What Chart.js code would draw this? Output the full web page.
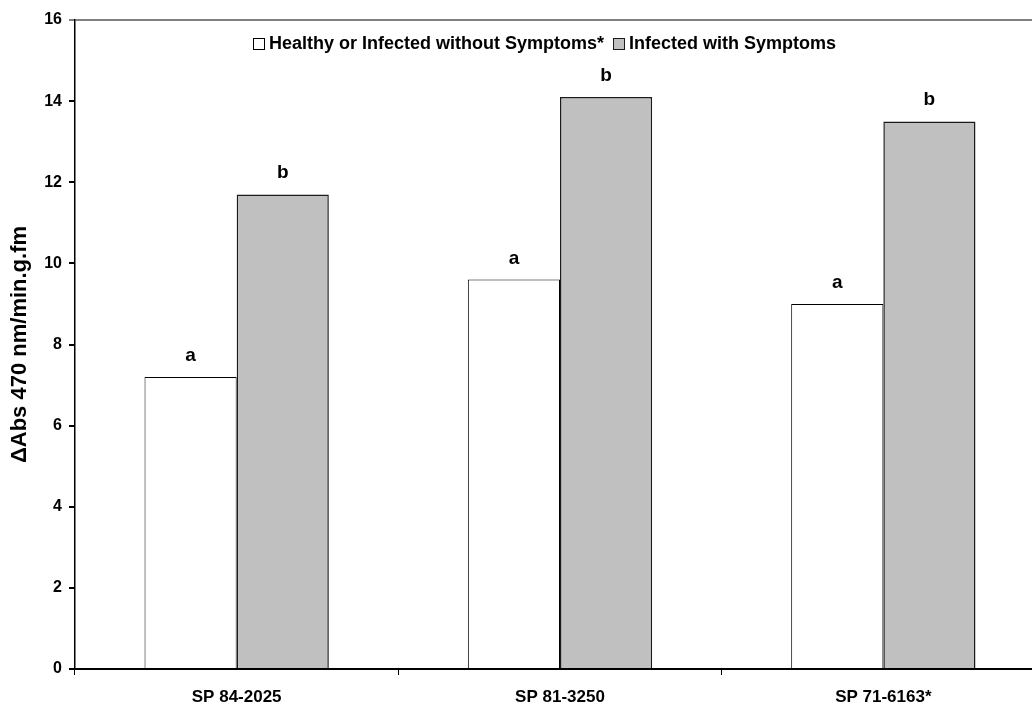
<!DOCTYPE html>
<html>
<head>
<meta charset="utf-8">
<script src="https://cdn.jsdelivr.net/npm/chart.js@4.4.1/dist/chart.umd.min.js"></script>
<style>
  html, body { margin: 0; padding: 0; background: #fff; overflow: hidden; }
  #wrap { width: 1050px; height: 704px; }
</style>
</head>
<body>
<div id="wrap"><canvas id="c" width="1050" height="704"></canvas></div>
<script>
// Clones and their enzyme activity for the two plant groups
const categories = ['SP 84-2025', 'SP 81-3250', 'SP 71-6163*'];
const seriesNames = ['Healthy or Infected without Symptoms*', 'Infected with Symptoms'];
const healthyValues = [7.2, 9.6, 9.0];
const symptomValues = [11.7, 14.1, 13.5];
// Significance letters written above each bar
const healthyLetters = ['a', 'a', 'a'];
const symptomLetters = ['b', 'b', 'b'];
const yMin = 0, yMax = 16, yStep = 2;

const FONT = '"Liberation Sans", Arial, sans-serif';

// Letters above the bars
const letterPlugin = {
  id: 'letters',
  afterDatasetsDraw(chart) {
    const ctx = chart.ctx;
    ctx.save();
    ctx.font = 'bold 19px ' + FONT;
    ctx.fillStyle = '#000';
    ctx.textAlign = 'center';
    ctx.textBaseline = 'alphabetic';
    chart.data.datasets.forEach((ds, di) => {
      const meta = chart.getDatasetMeta(di);
      meta.data.forEach((bar, i) => {
        ctx.fillText(ds.letters[i], bar.x, bar.y - 16);
      });
    });
    ctx.restore();
  }
};

// Legend drawn inside the plot area, near the top
const innerLegend = {
  id: 'innerLegend',
  afterDraw(chart) {
    const ctx = chart.ctx;
    const area = chart.chartArea;
    ctx.save();
    ctx.font = 'bold 18px ' + FONT;
    ctx.textBaseline = 'middle';
    ctx.textAlign = 'left';
    const box = 11, gapText = 5, gapItem = 9;
    const items = chart.data.datasets.map(ds => ({
      label: ds.label, fill: ds.backgroundColor, stroke: ds.borderColor,
      w: box + gapText + ctx.measureText(ds.label).width
    }));
    const total = items.reduce((s, it) => s + it.w, 0) + gapItem * (items.length - 1);
    let x = Math.round(545 - total / 2);
    const cy = area.top + 23;
    items.forEach(it => {
      const bx = Math.round(x) + 0.5, by = Math.round(cy - box / 2) + 0.5;
      ctx.fillStyle = it.fill;
      ctx.fillRect(bx, by, box, box);
      ctx.strokeStyle = it.stroke;
      ctx.lineWidth = 1;
      ctx.strokeRect(bx, by, box, box);
      ctx.fillStyle = '#000';
      ctx.fillText(it.label, x + box + gapText, cy + 1);
      x += it.w + gapItem;
    });
    ctx.restore();
  }
};

new Chart(document.getElementById('c'), {
  type: 'bar',
  data: {
    labels: categories,
    datasets: [
      {
        label: seriesNames[0],
        data: healthyValues,
        letters: healthyLetters,
        backgroundColor: '#ffffff',
        borderColor: '#000000',
        borderWidth: 1,
        categoryPercentage: 0.57,
        barPercentage: 1.0
      },
      {
        label: seriesNames[1],
        data: symptomValues,
        letters: symptomLetters,
        backgroundColor: '#c0c0c0',
        borderColor: '#1a1a1a',
        borderWidth: 1.5,
        categoryPercentage: 0.57,
        barPercentage: 1.0
      }
    ]
  },
  options: {
    responsive: false,
    animation: false,
    devicePixelRatio: 1,
    layout: { padding: { top: 20, left: 0, right: 5, bottom: 0 } },
    plugins: {
      legend: { display: false },
      tooltip: { enabled: false }
    },
    scales: {
      x: {
        offset: true,
        grid: {
          offset: true,
          drawOnChartArea: false,
          drawTicks: true,
          tickLength: 6,
          tickColor: '#000',
          tickWidth: 1
        },
        border: { color: '#000', width: 2 },
        ticks: {
          color: '#000',
          font: { family: FONT, size: 17, weight: 'bold' },
          padding: 12,
          maxRotation: 0
        },
        afterFit(scale) { scale.height = 35; }
      },
      y: {
        min: yMin,
        max: yMax,
        grid: {
          drawOnChartArea: true,
          drawTicks: true,
          tickLength: 6,
          color: c => (c.tick && c.tick.value === yMax) ? '#808080' : 'rgba(0,0,0,0)',
          tickColor: c => (c.tick && c.tick.value === yMax) ? '#808080' : '#000',
          lineWidth: 2
        },
        border: { color: '#000', width: 1.5 },
        ticks: {
          stepSize: yStep,
          color: '#000',
          font: { family: FONT, size: 16, weight: 'bold' },
          padding: 7
        },
        title: {
          display: true,
          text: 'ΔAbs 470 nm/min.g.fm',
          color: '#000',
          font: { family: FONT, size: 22, weight: 'bold' },
          padding: { top: 7, bottom: 0 }
        },
        afterFit(scale) { scale.width = 75; }
      }
    }
  },
  plugins: [letterPlugin, innerLegend]
});
</script>
</body>
</html>
